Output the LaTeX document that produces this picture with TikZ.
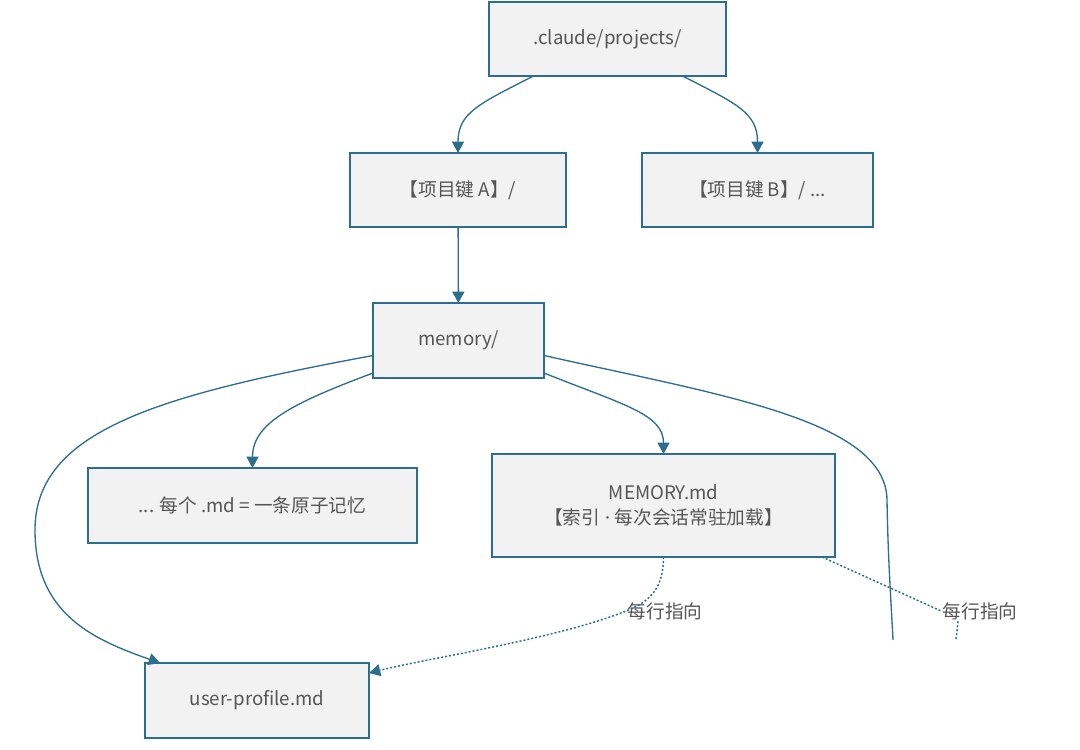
\documentclass[tikz,border=0pt]{standalone}
\usepackage{fontspec}
\setmainfont{Noto Sans CJK SC}
\newfontfamily\latinfont{Noto Sans}
\usepackage{tikz}
\usetikzlibrary{arrows.meta,positioning,calc}
\definecolor{boxfill}{HTML}{F2F2F2}
\definecolor{linkblue}{HTML}{2D6E8E}
\definecolor{txtgrey}{HTML}{555555}

\begin{document}
\begin{tikzpicture}[
    x=0.75pt, y=-0.75pt,
    every node/.style={font=\fontsize{14}{19}\selectfont, text=txtgrey},
    box/.style={rectangle, draw=linkblue, fill=boxfill, line width=1pt,
      inner sep=0pt, outer sep=0pt, align=center},
    arr/.style={-{Triangle[length=8.5pt, width=9pt]}, linkblue, line width=1pt},
    ref/.style={arr, dash pattern=on 1.5pt off 1.5pt, line width=1.1pt},
    lbl/.style={inner sep=1pt},
  ]
  \useasboundingbox (0,0) rectangle (1080,749);

  % folder tree, pixel coordinates of the boxes' centres
  \node[box, minimum width=177.75pt, minimum height=55.5pt]  (proj) at (607.5,39)  {.claude/projects/};
  \node[box, minimum width=162pt,    minimum height=55.5pt]  (keyA) at (458,190)   {【项目键 A】/};
  \node[box, minimum width=173.25pt, minimum height=55.5pt]  (keyB) at (757.5,190) {【项目键 B】/ ...};
  \node[box, minimum width=128.25pt, minimum height=56.25pt] (mem)  at (458.5,340.5) {memory/};
  \node[box, minimum width=246.75pt, minimum height=56.25pt] (atom) at (252.5,505.5) {... 每个 .md = 一条原子记忆};
  \node[box, minimum width=257.25pt, minimum height=77.25pt] (idx)  at (663.5,505.5) {MEMORY.md\\【索引{\latinfont\ ·\ }每次会话常驻加载】};
  \node[box, minimum width=168pt,    minimum height=56.25pt] (user) at (257,700.5) {user-profile.md};

  % labels on the dotted links
  \node[lbl] (lblA) at (665,611) {每行指向};
  \node[lbl] (lblB) at (980,611) {每行指向};

  % free ends at the cut-off right border
  \coordinate (offA) at (893,640);
  \coordinate (offB) at (956,640);

  % projects -> project keys
  \draw[arr] ($(proj.south)+(-74,0)$) .. controls +(-55,28) and +(0,-40) .. (keyA.north);
  \draw[arr] ($(proj.south)+(75,0)$)  .. controls +(55,28)  and +(0,-40) .. (keyB.north);
  \draw[arr] (keyA) -- (mem);

  % memory/ -> its files
  \draw[arr] ($(mem.south west)+(0,-5)$) .. controls +(-80,30) and +(0,-45) .. (atom.north);
  \draw[arr] ($(mem.south east)+(0,-5)$) .. controls +(80,32)  and +(0,-40) .. (idx.north);
  \draw[arr] ($(mem.west)+(0,15)$) .. controls (160,395) and (35,430) .. (35,530)
    .. controls (35,615) and (95,640) .. ($(user.north west)+(15,0)$);
  \draw[linkblue, line width=1pt] ($(mem.east)+(0,15)$) .. controls (720,395) and (886,420) .. (887,500)
    .. controls (888,560) and (891,600) .. (offA);

  % index points at each file
  \draw[ref] (idx.south) .. controls +(0,35) and +(20,-8) .. (lblA.west)
    .. controls +(-70,28) and +(60,-15) .. ($(user.north east)+(0,10)$);
  \draw[linkblue, dash pattern=on 1.5pt off 1.5pt, line width=1.1pt] ($(idx.south east)+(-13,0)$) -- (lblB.west);
  \draw[linkblue, dash pattern=on 1.5pt off 1.5pt, line width=1.1pt] ($(lblB.south)+(-22,0)$) -- (offB);
\end{tikzpicture}
\end{document}
